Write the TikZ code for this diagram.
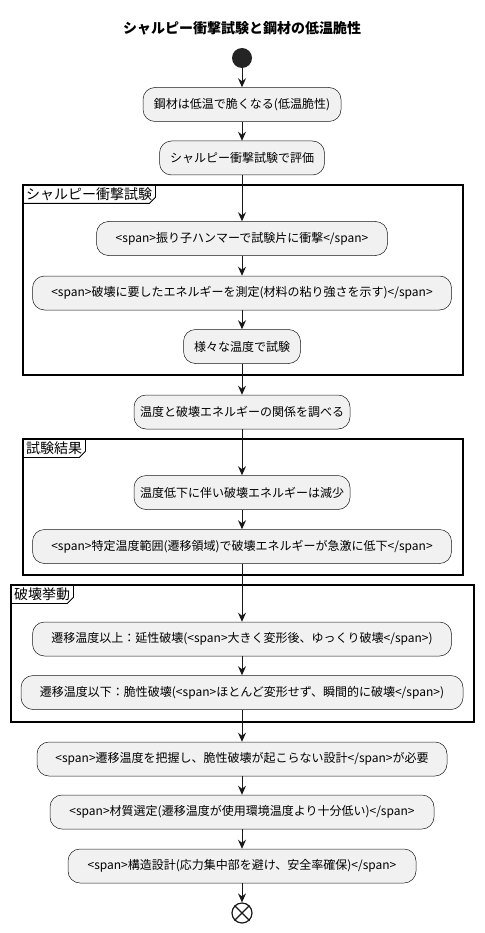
\documentclass[tikz,border=0pt]{standalone}
\usepackage{fontspec}
\setmainfont{Noto Sans CJK JP}
\usetikzlibrary{arrows.meta}
\definecolor{actfill}{HTML}{F1F1F1}
\definecolor{actline}{HTML}{181818}

\begin{document}
\begin{tikzpicture}[x=1pt,y=-1pt,
    act/.style={draw=actline,fill=actfill,line width=0.5pt,rounded corners=12pt,
        minimum height=34pt,inner sep=0pt,font=\fontsize{12}{14}\selectfont},
    flow/.style={draw=actline,line width=1pt,-{Stealth[length=9pt,width=8pt,inset=3pt]}},
    frame/.style={draw=black,line width=1.5pt},
    tab/.style={anchor=north west,inner xsep=3pt,inner ysep=1pt,minimum height=18pt,
        font=\fontsize{14}{16}\selectfont}]
    \useasboundingbox (0,0) rectangle (484,933);
    \node[font=\bfseries\fontsize{14}{16}\selectfont] (title) at (242,28) {シャルピー衝撃試験と鋼材の低温脆性};
        \node[circle,fill=actline!95,minimum size=20pt,inner sep=0pt] (start) at (242,58) {};
        \node[act,minimum width=198pt] (b1) at (242,104.5) {鋼材は低温で脆くなる(低温脆性)};
        \node[act,minimum width=165pt] (b2) at (242,158) {シャルピー衝撃試験で評価};
        % partition 1
        \draw[frame] (23,185) rectangle (463,375);
        \node[tab] (t1) at (23,185) {シャルピー衝撃試験};
        \draw[line width=0.8pt] (t1.north east) -- ([yshift=6pt]t1.south east) -- ([xshift=-6pt]t1.south east) -- (t1.south west);
        \node[act,minimum width=291pt] (b3) at (242,238.5) {<span>振り子ハンマーで試験片に衝撃</span>};
        \node[act,minimum width=419pt] (b4) at (242,293) {<span>破壊に要したエネルギーを測定(材料の粘り強さを示す)</span>};
        \node[act,minimum width=117pt] (b5) at (242,346.5) {様々な温度で試験};
        \node[act,minimum width=216pt] (b6) at (242,412) {温度と破壊エネルギーの関係を調べる};
        % partition 2
        \draw[frame] (23,439) rectangle (463,575);
        \node[tab] (t2) at (23,439) {試験結果};
        \draw[line width=0.8pt] (t2.north east) -- ([yshift=6pt]t2.south east) -- ([xshift=-6pt]t2.south east) -- (t2.south west);
        \node[act,minimum width=216pt] (b7) at (242,492.5) {温度低下に伴い破壊エネルギーは減少};
        \node[act,minimum width=419pt] (b8) at (242,546.5) {<span>特定温度範囲(遷移領域)で破壊エネルギーが急激に低下</span>};
        % partition 3
        \draw[frame] (11,585) rectangle (474,722);
        \node[tab] (t3) at (11,585) {破壊挙動};
        \draw[line width=0.8pt] (t3.north east) -- ([yshift=6pt]t3.south east) -- ([xshift=-6pt]t3.south east) -- (t3.south west);
        \node[act,minimum width=419pt] (b9) at (242,639) {遷移温度以上：延性破壊(<span>大きく変形後、ゆっくり破壊</span>)};
        \node[act,minimum width=442pt] (b10) at (242,692.5) {遷移温度以下：脆性破壊(<span>ほとんど変形せず、瞬間的に破壊</span>)};
        \node[act,minimum width=410pt] (b11) at (242,759) {<span>遷移温度を把握し、脆性破壊が起こらない設計</span>が必要};
        \node[act,minimum width=384pt] (b12) at (242,812) {<span>材質選定(遷移温度が使用環境温度より十分低い)</span>};
        \node[act,minimum width=348pt] (b13) at (242,866) {<span>構造設計(応力集中部を避け、安全率確保)</span>};
        \node[circle,draw=actline,line width=1.2pt,minimum size=20pt,inner sep=0pt] (stop) at (242,913) {};
        \draw[actline,line width=1.2pt] (stop.45) -- (stop.225) (stop.135) -- (stop.315);
        \draw[flow] (start) -- (b1);
        \draw[flow] (b1) -- (b2);
        \draw[flow] (b2) -- (b3);
        \draw[flow] (b3) -- (b4);
        \draw[flow] (b4) -- (b5);
        \draw[flow] (b5) -- (b6);
        \draw[flow] (b6) -- (b7);
        \draw[flow] (b7) -- (b8);
        \draw[flow] (b8) -- (b9);
        \draw[flow] (b9) -- (b10);
        \draw[flow] (b10) -- (b11);
        \draw[flow] (b11) -- (b12);
        \draw[flow] (b12) -- (b13);
        \draw[flow] (b13) -- (stop);
\end{tikzpicture}
\end{document}
